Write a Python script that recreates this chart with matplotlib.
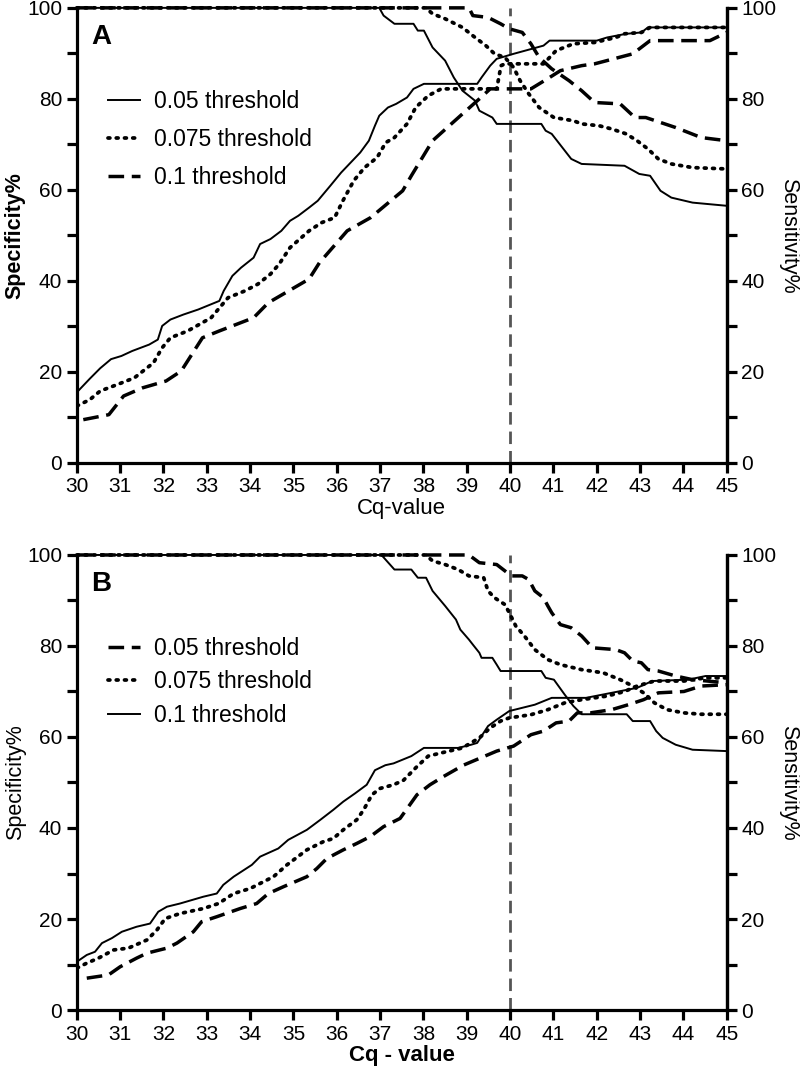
import matplotlib
matplotlib.use('Agg')
import matplotlib.pyplot as plt
from matplotlib.ticker import MultipleLocator

plt.rcParams['font.family'] = ['Liberation Sans', 'DejaVu Sans']

# ---- panel A ----
a_spec_005_x = [30, 36.98, 37.08, 37.33, 37.77, 37.87, 38.01, 38.21, 38.5, 38.7, 38.9, 39.19, 39.29, 39.59, 39.69,
                40.72, 40.82, 40.96, 41.41, 41.65, 42.64, 42.98, 43.23, 43.47, 43.72, 44.21, 45]
a_spec_005_y = [100, 100, 98.3, 96.5, 96.5, 95, 95, 91.3, 88.4, 84.7, 81.8, 79.6, 77.4, 75.9, 74.5,
                74.5, 73, 72.3, 66.8, 65.7, 65.3, 63.5, 63.1, 59.8, 58.3, 57.2, 56.5]
a_sens_005_x = [30, 30.3, 30.54, 30.79, 31.03, 31.28, 31.67, 31.87, 31.97, 32.16, 32.46, 32.8, 33.29, 33.39, 33.59,
                33.79, 34.08, 34.23, 34.47, 34.72, 34.92, 35.11, 35.36, 35.56, 35.85, 36.1, 36.29, 36.54, 36.74,
                36.88, 36.98, 37.18, 37.37, 37.62, 37.77, 38.01, 39.24, 39.34, 39.54, 39.69, 40.08, 40.77, 40.91,
                42.0, 42.24, 42.68, 43.03, 43.18, 45]
a_sens_005_y = [15.5, 18.5, 20.8, 22.8, 23.5, 24.6, 26, 27.1, 30.1, 31.5, 32.6, 33.7, 35.6, 37.8, 41.1,
                42.9, 45.1, 48.1, 49.2, 51, 53.2, 54.3, 56.1, 57.6, 60.9, 63.8, 65.7, 68.2, 70.8,
                74.1, 76.3, 78.1, 78.9, 80.3, 82.2, 83.3, 83.3, 84.7, 87.3, 88.8, 89.9, 91.7, 92.8,
                92.8, 93.5, 94.3, 94.6, 95.7, 95.7]
a_spec_0075_x = [30, 38.05, 38.21, 38.5, 38.9, 39.19, 39.44, 39.64, 39.88, 40.08, 40.23, 40.43, 40.67, 41.01, 41.46,
                 41.65, 42.05, 42.34, 42.68, 42.93, 43.18, 43.42, 43.72, 44.21, 45]
a_spec_0075_y = [100, 100, 98.7, 97.6, 95.7, 93.5, 91.7, 89.9, 89.1, 86.9, 84, 81.1, 78.1, 75.9, 75.2,
                 74.5, 74.1, 73.4, 72.3, 70.8, 69, 66.8, 65.7, 64.9, 64.6]
a_sens_0075_x = [30, 30.3, 30.54, 30.93, 31.33, 31.77, 31.97, 32.16, 32.56, 33.1, 33.49, 33.88, 34.18, 34.47, 34.67,
                 34.92, 35.36, 35.65, 35.95, 36.14, 36.39, 36.64, 36.93, 37.13, 37.33, 37.62, 37.82, 38.11, 38.41,
                 39.69, 39.79, 39.88, 40.77, 41.06, 41.46, 41.95, 42.44, 42.64, 43.03, 43.23, 45]
a_sens_0075_y = [12.5, 13.9, 15.8, 17.2, 18.7, 22, 25.3, 27.5, 29, 31.9, 36.3, 37.8, 39.3, 41.5, 43.7,
                 47.3, 51, 52.8, 53.9, 57.6, 62, 64.9, 67.1, 70.4, 71.5, 74.5, 78.1, 80.7, 82.2,
                 82.2, 87.3, 87.7, 87.7, 90.6, 92.1, 92.4, 93.5, 94.3, 94.6, 95.7, 95.7]
a_spec_01_x = [30, 39.05, 39.14, 39.49, 39.78, 39.98, 40.28, 40.48, 40.67, 40.96, 41.36, 41.65, 41.95, 42.54, 42.88,
               43.13, 43.82, 44.41, 45]
a_spec_01_y = [100, 100, 98.3, 97.9, 96.5, 95.4, 94.6, 92.1, 89.1, 86.6, 84, 81.8, 79.2, 78.9, 75.9,
               75.9, 73.7, 71.5, 70.8]
a_sens_01_x = [30.15, 30.74, 31.08, 31.52, 32.06, 32.41, 32.9, 33.29, 34.08, 34.42, 35.36, 35.6, 36.24, 36.78, 37.52,
               37.72, 38.21, 38.9, 39.29, 39.54, 40.48, 40.91, 41.16, 41.65, 41.95, 42.83, 43.23, 44.61, 45]
a_sens_01_y = [9.5, 10.6, 14.7, 16.5, 18, 20.2, 27.5, 29, 31.9, 35.2, 40.4, 44, 51, 53.9, 59.8,
               63.1, 70.8, 76.7, 80, 82.2, 82.2, 84.7, 86.2, 87.3, 87.7, 89.9, 92.8, 92.8, 94.6]

# ---- panel B ----
b_spec_01_x = [30, 37.03, 37.33, 37.72, 37.87, 38.06, 38.21, 38.5, 38.75, 38.85, 39.05, 39.14, 39.29, 39.34, 39.59,
               39.69, 39.78, 40.72, 40.82, 41.01, 41.26, 41.46, 41.65, 42.69, 42.83, 43.23, 43.37, 43.52, 43.82,
               44.21, 45]
b_spec_01_y = [100, 100, 96.8, 96.8, 95, 95, 92.1, 88.8, 85.8, 83.6, 81.4, 80.3, 78.5, 77.4, 77.4,
               75.9, 74.5, 74.5, 73, 72.6, 69.3, 66.8, 65, 65, 63.5, 63.5, 61.3, 59.8, 58.3,
               57.2, 56.9]
b_spec_0075_x = [30, 38.05, 38.21, 38.5, 38.8, 39.05, 39.39, 39.49, 39.64, 39.88, 39.98, 40.13, 40.33, 40.57, 40.87,
                 41.16, 41.65, 42.15, 42.54, 42.83, 43.08, 43.33, 43.62, 44.01, 44.41, 45]
b_spec_0075_y = [100, 100, 98.7, 97.9, 96.8, 95.4, 95, 92.1, 90.6, 89.1, 87.3, 84.4, 82.2, 79.2, 77,
                 75.9, 74.8, 74.1, 72.6, 71.2, 69.7, 67.5, 66, 65.3, 65, 65]
b_spec_005_x = [30, 39.05, 39.29, 39.69, 39.88, 40.03, 40.28, 40.43, 40.57, 40.77, 40.87, 40.96, 41.16, 41.41, 41.65,
                41.9, 42.44, 42.64, 42.83, 43.03, 43.18, 43.42, 43.82, 44.21, 45]
b_spec_005_y = [100, 100, 98.3, 97.9, 96.5, 95.4, 95.4, 94.6, 92.1, 90.6, 88.8, 87.3, 84.7, 84, 82.2,
                79.6, 79.2, 78.5, 76.7, 76.3, 74.8, 74.5, 73.4, 72.6, 71.9]
b_sens_01_x = [30, 30.23, 30.42, 30.58, 30.81, 31.04, 31.38, 31.69, 31.88, 32.08, 32.38, 32.92, 33.23, 33.38, 33.62,
               34.04, 34.23, 34.65, 34.88, 35.31, 35.62, 35.92, 36.15, 36.42, 36.69, 36.88, 37.12, 37.31, 37.72,
               38.01, 38.8, 39.1, 39.24, 39.34, 39.49, 39.69, 39.98, 40.57, 40.96, 41.75, 42.34, 42.93, 43.28,
               44.11, 44.51, 45]
b_sens_01_y = [10.6, 12.1, 12.8, 14.7, 15.8, 17.2, 18.3, 19, 21.6, 22.7, 23.4, 24.9, 25.6, 27.5, 29.3,
               31.9, 33.7, 35.5, 37.4, 39.6, 41.8, 44, 45.8, 47.6, 49.5, 52.7, 53.8, 54.2, 55.8,
               57.6, 57.6, 58.3, 58.7, 60.2, 62.4, 63.8, 65.7, 67.1, 68.6, 68.6, 69.7, 70.8, 72.3,
               72.6, 73.4, 73.4]
b_sens_0075_x = [30, 30.23, 30.5, 30.85, 31.19, 31.62, 31.85, 32.04, 32.38, 32.92, 33.27, 33.62, 34.0, 34.31, 34.54,
                 34.85, 35.31, 35.69, 35.92, 36.15, 36.46, 36.62, 36.81, 37.0, 37.31, 37.54, 37.85, 38.11, 38.41,
                 38.9, 39.29, 39.54, 39.78, 39.98, 40.48, 40.87, 41.26, 41.65, 42.24, 42.64, 42.93, 43.33, 44.01,
                 44.51, 45]
b_sens_0075_y = [9.2, 10.3, 11.4, 13.2, 13.6, 15.4, 17.6, 20.1, 21.2, 22.3, 23.4, 25.6, 26.7, 28.2, 29.3,
                 31.9, 35.2, 37, 37.7, 39.6, 41.8, 44, 47.3, 48.7, 49.5, 50.5, 53.5, 55.8, 56.5,
                 57.6, 59.8, 62, 63.5, 64.2, 64.9, 66, 67.5, 68.2, 69, 70, 71.2, 72.3, 72.3,
                 73, 73]
b_sens_005_x = [30.23, 30.73, 31.0, 31.38, 31.62, 32.08, 32.31, 32.69, 32.88, 33.23, 33.77, 34.15, 34.42, 34.77, 35.31,
                35.54, 35.77, 36.15, 36.46, 36.77, 37.08, 37.46, 37.85, 38.15, 38.46, 38.92, 39.69, 40.08, 40.48,
                40.77, 41.06, 41.36, 41.55, 41.85, 42.34, 42.73, 43.08, 43.42, 44.01, 44.41, 45]
b_sens_005_y = [7, 7.7, 9.5, 11.4, 12.5, 13.6, 14.7, 17.2, 19.4, 20.5, 22.3, 23.4, 25.6, 27.1, 29.3,
                31.1, 33.3, 35.2, 36.6, 38.1, 40.3, 42.1, 47.3, 49.5, 51.3, 53.8, 56.9, 58, 60.5,
                61.3, 63.1, 63.5, 65.3, 65.3, 66, 67.1, 68.2, 69.7, 70, 71.2, 71.5]

cutoff = 40
x_ticks = list(range(30, 46))
labels_a = ['0.05 threshold', '0.075 threshold', '0.1 threshold']
labels_b = ['0.05 threshold', '0.075 threshold', '0.1 threshold']

solid = dict(color='black', lw=1.4, linestyle='-')
dotted = dict(color='black', lw=2.7, linestyle=(0, (0.5, 1.7)), dash_capstyle='round')
dashed = dict(color='black', lw=2.5, linestyle=(0, (4.5, 2.2)))

fig = plt.figure(figsize=(8, 10.77), dpi=100)


def setup(ax, letter, xlabel, bold_y, bold_x):
    ax.set_xlim(30, 45)
    ax.set_ylim(0, 100)
    ax.set_xticks(x_ticks)
    ax.yaxis.set_major_locator(MultipleLocator(20))
    ax.yaxis.set_minor_locator(MultipleLocator(10))
    ax.spines['top'].set_visible(False)
    for s in ['left', 'right', 'bottom']:
        ax.spines[s].set_linewidth(2.3)
    ax.tick_params(which='both', width=2.3, length=7.5, direction='out', labelsize=15, pad=3)
    ax.axvline(cutoff, color='#555555', lw=2.0, linestyle=(0, (4.5, 2.5)), zorder=1)
    ax.set_ylabel('Specificity%', fontsize=15.5, fontweight='bold' if bold_y else 'normal', labelpad=1)
    ax.set_xlabel(xlabel, fontsize=16, fontweight='bold' if bold_x else 'normal', labelpad=1)
    ax.text(0.022, 0.965, letter, transform=ax.transAxes, fontsize=20, fontweight='bold', va='top', ha='left')
    ax2 = ax.twinx()
    ax2.set_ylim(0, 100)
    ax2.yaxis.set_major_locator(MultipleLocator(20))
    ax2.yaxis.set_minor_locator(MultipleLocator(10))
    ax2.spines['top'].set_visible(False)
    ax2.spines['right'].set_linewidth(2.3)
    ax2.tick_params(which='both', width=2.3, length=7.5, direction='out', labelsize=15, pad=3)
    ax2.set_ylabel('Sensitivity%', fontsize=15.5, rotation=270, labelpad=16)
    return ax2


# panel A
axA = fig.add_axes([0.096, 0.5702, 0.8125, 0.4225])
setup(axA, 'A', 'Cq-value', True, False)
lA1, = axA.plot(a_spec_005_x, a_spec_005_y, clip_on=False, **solid)
axA.plot(a_sens_005_x, a_sens_005_y, **solid)
lA2, = axA.plot(a_spec_0075_x, a_spec_0075_y, clip_on=False, **dotted)
axA.plot(a_sens_0075_x, a_sens_0075_y, **dotted)
lA3, = axA.plot(a_spec_01_x, a_spec_01_y, clip_on=False, **dashed)
axA.plot(a_sens_01_x, a_sens_01_y, **dashed)
axA.legend([lA1, lA2, lA3], labels_a,
           loc='upper left', bbox_to_anchor=(0.03, 0.845), frameon=False, fontsize=16.5,
           handlelength=1.4, handletextpad=0.6, labelspacing=0.66, borderpad=0)

# panel B
axB = fig.add_axes([0.096, 0.0622, 0.8125, 0.4225])
setup(axB, 'B', 'Cq - value', False, True)
lB1, = axB.plot(b_spec_005_x, b_spec_005_y, clip_on=False, **dashed)
axB.plot(b_sens_005_x, b_sens_005_y, **dashed)
lB2, = axB.plot(b_spec_0075_x, b_spec_0075_y, clip_on=False, **dotted)
axB.plot(b_sens_0075_x, b_sens_0075_y, **dotted)
lB3, = axB.plot(b_spec_01_x, b_spec_01_y, clip_on=False, **solid)
axB.plot(b_sens_01_x, b_sens_01_y, **solid)
axB.legend([lB1, lB2, lB3], labels_b,
           loc='upper left', bbox_to_anchor=(0.03, 0.845), frameon=False, fontsize=16.5,
           handlelength=1.4, handletextpad=0.6, labelspacing=0.45, borderpad=0)

fig.savefig('out.png', dpi=100)
